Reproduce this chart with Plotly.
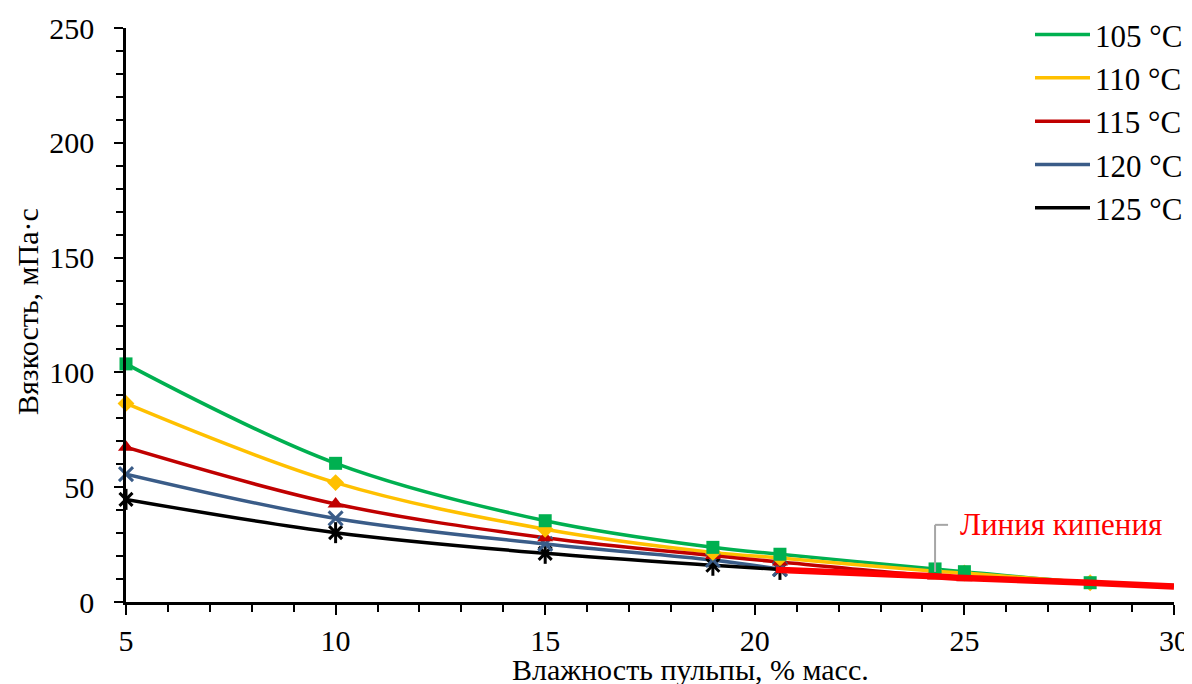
import plotly.graph_objects as go

# ---- data ----
series_names = ["105 °C", "110 °C", "115 °C", "120 °C", "125 °C"]

x105 = [5, 10, 15, 19, 20.6, 24.3, 25, 28]
y105 = [103.7, 60.4, 35.4, 23.8, 20.8, 14.4, 13.2, 8.4]
x105_line = [5, 10, 15, 19, 20.6, 24.3, 25, 28, 30]
y105_line = [103.7, 60.4, 35.4, 23.8, 20.8, 14.4, 13.2, 8.4, 7.2]

x110 = [5, 10, 15, 19, 20.6, 24.3, 25, 28]
y110 = [86.5, 52.0, 31.7, 21.6, 19.2, 13.4, 12.6, 8.4]

x115 = [5, 10, 15, 19, 20.6, 24.3, 25]
y115 = [67.4, 42.7, 28.0, 20.2, 17.4, 11.3, 10.6]

x120 = [5, 10, 15, 19, 20.6]
y120 = [55.7, 36.4, 25.3, 18.3, 14.3]

x125 = [5, 10, 15, 19, 20.6]
y125 = [44.7, 30.2, 21.2, 16.0, 14.2]

x_boil = [20.5, 24.3, 25, 28, 30]
y_boil = [14.0, 11.2, 10.4, 8.4, 6.7]
boil_label = "Линия кипения"

x_title = "Влажность пульпы, % масс."
y_title = "Вязкость, мПа·с"

FONT = "Times New Roman, Liberation Serif, serif"
FS = 30

colors = ["#00B050", "#FFC000", "#C00000", "#3A5C88", "#000000"]

# page body has an 8px default margin; figure is sized to compensate
OFF = 8

fig = go.Figure()

line_sets = [(x105_line, y105_line), (x110, y110), (x115, y115), (x120, y120), (x125, y125)]
for (xs, ys), name, c in zip(line_sets, series_names, colors):
    fig.add_trace(go.Scatter(x=xs, y=ys, mode="lines", name=name,
                             line=dict(color=c, width=3.5, shape="spline"),
                             showlegend=True))

# markers
fig.add_trace(go.Scatter(x=x125, y=y125, mode="markers", showlegend=False, cliponaxis=False,
                         marker=dict(symbol="x-thin-open", size=13, color=colors[4],
                                     line=dict(width=3, color=colors[4]))))
fig.add_trace(go.Scatter(x=x125, y=y125, mode="markers", showlegend=False, cliponaxis=False,
                         marker=dict(symbol="line-ns-open", size=15, color=colors[4],
                                     line=dict(width=3, color=colors[4]))))
fig.add_trace(go.Scatter(x=x120, y=y120, mode="markers", showlegend=False, cliponaxis=False,
                         marker=dict(symbol="x-thin-open", size=14, color=colors[3],
                                     line=dict(width=3, color=colors[3]))))
fig.add_trace(go.Scatter(x=x115, y=y115, mode="markers", showlegend=False, cliponaxis=False,
                         marker=dict(symbol="triangle-up", size=14, color=colors[2])))
fig.add_trace(go.Scatter(x=x110, y=y110, mode="markers", showlegend=False, cliponaxis=False,
                         marker=dict(symbol="diamond", size=13, color=colors[1])))
fig.add_trace(go.Scatter(x=x105, y=y105, mode="markers", showlegend=False, cliponaxis=False,
                         marker=dict(symbol="square", size=13, color=colors[0])))

# boiling line
fig.add_trace(go.Scatter(x=x_boil, y=y_boil, mode="lines", name=boil_label, showlegend=False,
                         line=dict(color="#FF0000", width=6.5, shape="spline")))

# callout leader
fig.add_shape(type="line", xref="x", yref="y", x0=24.3, y0=13.1, x1=24.3, y1=33.6,
              line=dict(color="#A6A6A6", width=2))
fig.add_shape(type="line", xref="x", yref="y", x0=24.3, y0=33.6, x1=24.61, y1=33.6,
              line=dict(color="#A6A6A6", width=2))
fig.add_annotation(x=24.85, y=33.6, xref="x", yref="y", text=boil_label, showarrow=False,
                   xanchor="left", yanchor="middle",
                   font=dict(family=FONT, size=FS + 1, color="#FF0000"))

# axis titles
fig.add_annotation(x=(690 - 126) / 1048, y=-(669 - 602) / 574, xref="paper", yref="paper",
                   text=x_title, showarrow=False, xanchor="center", yanchor="middle",
                   font=dict(family=FONT, size=FS, color="black"))
fig.add_annotation(x=-(126 - 27) / 1048, y=(602 - 312) / 574, xref="paper", yref="paper",
                   text=y_title, showarrow=False, textangle=-90, xanchor="center", yanchor="middle",
                   font=dict(family=FONT, size=FS, color="black"))

fig.update_layout(
    width=1192 - OFF, height=684 - OFF,
    margin=dict(l=126 - OFF, r=18, t=28 - OFF, b=82, autoexpand=False),
    paper_bgcolor="white", plot_bgcolor="white",
    font=dict(family=FONT, size=FS, color="black"),
    legend=dict(x=(1030 - 126) / 1048, y=1.035, xanchor="left", yanchor="top",
                bgcolor="rgba(0,0,0,0)", font=dict(family=FONT, size=FS + 1),
                itemwidth=55, tracegroupgap=0),
)
fig.update_xaxes(range=[5, 30], dtick=5, tick0=5, showgrid=False, zeroline=False,
                 showline=True, linecolor="black", linewidth=2.5,
                 ticks="outside", ticklen=10, tickwidth=2, tickcolor="black",
                 tickfont=dict(family=FONT, size=FS),
                 minor=dict(dtick=1, ticks="outside", ticklen=7, tickwidth=2,
                            tickcolor="black", showgrid=False))
fig.update_yaxes(range=[0, 250], dtick=50, showgrid=False, zeroline=False,
                 showline=True, linecolor="black", linewidth=2.5,
                 ticks="outside", ticklen=9, tickwidth=2, tickcolor="black",
                 tickfont=dict(family=FONT, size=FS), ticklabelstandoff=14,
                 minor=dict(dtick=10, ticks="outside", ticklen=7, tickwidth=2,
                            tickcolor="black", showgrid=False))

fig.write_html("out.html")
